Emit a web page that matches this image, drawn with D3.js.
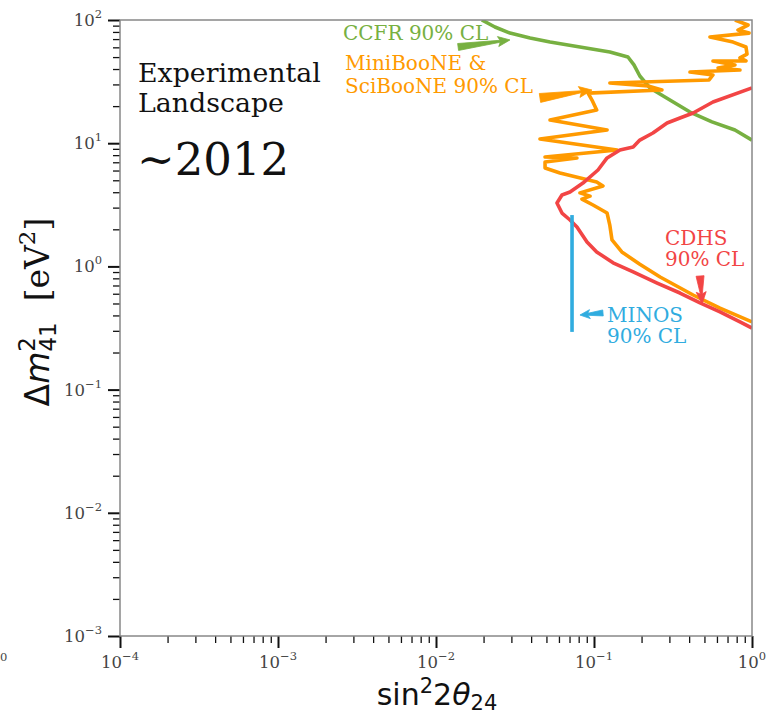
<!DOCTYPE html>
<html>
<head>
<meta charset="utf-8">
<script src="https://cdn.jsdelivr.net/npm/d3@7"></script>
<style>
body { margin: 0; background: #fff }
svg { display: block }
</style>
</head>
<body>
<script>
// CCFR 90% CL limit (sin^2 2theta_24, dm^2_41 in eV^2)
var ccfrSin = [0.0195, 0.0236, 0.0294, 0.0394, 0.0527, 0.0815, 0.126, 0.164, 0.179, 0.195, 0.226, 0.281, 0.405, 0.558, 0.780, 1.0]
var ccfrDm = [100, 87.7, 78.3, 71.5, 66.2, 60.4, 55.0, 50.1, 43.2, 35.1, 28.1, 23.7, 17.9, 14.9, 12.8, 10.6]

// CDHS 90% CL limit
var cdhsSin = [1.0, 0.566, 0.424, 0.350, 0.290, 0.236, 0.195, 0.177, 0.146, 0.121, 0.106, 0.0851, 0.0705, 0.0627, 0.0583, 0.0627, 0.0705, 0.0780, 0.0903, 0.104, 0.132, 0.177, 0.251, 0.350, 0.469, 0.627, 0.839, 1.0]
var cdhsDm = [28.1, 21.6, 17.6, 16.0, 14.6, 12.1, 10.6, 9.31, 8.81, 7.59, 6.06, 4.75, 4.02, 3.80, 3.27, 2.71, 2.38, 2.09, 1.58, 1.31, 1.07, 0.902, 0.733, 0.608, 0.505, 0.427, 0.354, 0.316]

// MiniBooNE & SciBooNE 90% CL limit
var mbSin = [0.780, 0.944, 0.815, 0.958, 0.542, 0.759, 0.916, 0.930, 0.839, 0.916, 0.566, 0.780, 0.610, 0.839, 0.405, 0.566, 0.535, 0.126, 0.220, 0.269, 0.0917, 0.0971, 0.104, 0.0527, 0.121, 0.0455, 0.140, 0.0490, 0.0780, 0.0490, 0.0490, 0.0609, 0.104, 0.114, 0.0815, 0.0944, 0.0839, 0.0986, 0.121, 0.126, 0.130, 0.150, 0.195, 0.262, 0.424, 0.627, 1.0]
var mbDm = [100, 91.0, 82.9, 78.3, 72.8, 66.2, 60.4, 52.9, 49.2, 46.5, 46.5, 43.2, 40.8, 39.3, 37.8, 35.8, 32.6, 30.8, 29.1, 27.0, 25.5, 22.4, 18.6, 15.4, 12.8, 10.8, 8.81, 7.73, 7.59, 7.03, 6.29, 5.73, 4.84, 4.50, 3.95, 3.72, 3.52, 3.15, 2.71, 2.15, 1.64, 1.31, 1.04, 0.820, 0.586, 0.459, 0.354]

// MINOS 90% CL limit
var minosSin = [0.0726, 0.0726]
var minosDm = [0.294, 2.61]

// axis decades
var xDecades = [-4, -3, -2, -1, 0]
var yDecades = [-3, -2, -1, 0, 1, 2]

// arrows: [tailSin, tailDm, tipSin, tipDm]
var ccfrArrow = [0.0138, 60.4, 0.0294, 68.9]
var mbArrow = [0.0455, 23.3, 0.0971, 27.0]
var cdhsArrow = [0.469, 0.836, 0.483, 0.496]
var minosArrow = [0.114, 0.419, 0.0815, 0.403]

var GREEN = '#77b041'
var ORANGE = '#ff9a00'
var RED = '#f24545'
var BLUE = '#30acdf'

var width = 768
var height = 714
var margin = {left: 120, right: 16, top: 20, bottom: 78}

var svg = d3.select('body').append('svg')
  .attr('width', width)
  .attr('height', height)

svg.append('rect')
  .attr('width', width)
  .attr('height', height)
  .attr('fill', '#fff')

var x = d3.scaleLog().domain([1e-4, 1]).range([margin.left, width - margin.right])
var y = d3.scaleLog().domain([1e-3, 1e2]).range([height - margin.bottom, margin.top])

function zip(xs, ys) {
  return xs.map(function(v, i) { return [v, ys[i]] })
}

function minors(decades) {
  var out = []
  decades.slice(0, -1).forEach(function(d) {
    for (var k = 2; k < 10; k++) out.push(k * Math.pow(10, d))
  })
  return out
}

function majors(decades) {
  return decades.map(function(d) { return Math.pow(10, d) })
}

// ticks
var xMinorAxis = d3.axisBottom(x).tickValues(minors(xDecades)).tickSize(7).tickFormat('')
var xMajorAxis = d3.axisBottom(x).tickValues(majors(xDecades)).tickSize(12).tickFormat('')
var yMinorAxis = d3.axisLeft(y).tickValues(minors(yDecades)).tickSize(7).tickFormat('')
var yMajorAxis = d3.axisLeft(y).tickValues(majors(yDecades)).tickSize(12).tickFormat('')

function drawAxis(axis, transform, w) {
  var g = svg.append('g').attr('transform', transform).call(axis)
  g.select('.domain').remove()
  g.selectAll('line').attr('stroke', '#111').attr('stroke-width', w)
  return g
}

drawAxis(xMinorAxis, 'translate(0,' + y.range()[0] + ')', 1.3)
drawAxis(xMajorAxis, 'translate(0,' + y.range()[0] + ')', 2)
drawAxis(yMinorAxis, 'translate(' + x.range()[0] + ',0)', 1.3)
drawAxis(yMajorAxis, 'translate(' + x.range()[0] + ',0)', 2)

function expLabel(sel, d) {
  sel.append('tspan').text('10')
  sel.append('tspan')
    .attr('dy', -8)
    .attr('font-size', 11.5)
    .text(d < 0 ? '\u2212' + (-d) : d)
}

svg.append('g').selectAll('text')
  .data(xDecades)
  .enter()
  .append('text')
  .attr('x', function(d) { return x(Math.pow(10, d)) })
  .attr('y', 668)
  .attr('text-anchor', 'middle')
  .attr('font-family', 'DejaVu Serif')
  .attr('font-size', 16.5)
  .attr('fill', '#444')
  .each(function(d) { expLabel(d3.select(this), d) })

svg.append('g').selectAll('text')
  .data(yDecades)
  .enter()
  .append('text')
  .attr('x', 102)
  .attr('y', function(d) { return y(Math.pow(10, d)) + 6 })
  .attr('text-anchor', 'end')
  .attr('font-family', 'DejaVu Serif')
  .attr('font-size', 16.5)
  .attr('fill', '#444')
  .each(function(d) { expLabel(d3.select(this), d) })

// stray clipped label at the far left
svg.append('text')
  .attr('x', 0)
  .attr('y', 661)
  .attr('font-family', 'DejaVu Serif')
  .attr('font-size', 11.5)
  .attr('fill', '#444')
  .text('0')

// curves
svg.append('clipPath').attr('id', 'plot')
  .append('rect')
  .attr('x', x.range()[0])
  .attr('y', y.range()[1])
  .attr('width', x.range()[1] - x.range()[0])
  .attr('height', y.range()[0] - y.range()[1])

var line = d3.line()
  .x(function(d) { return x(d[0]) })
  .y(function(d) { return y(d[1]) })

var curves = [
  {pts: zip(ccfrSin, ccfrDm), color: GREEN},
  {pts: zip(mbSin, mbDm), color: ORANGE},
  {pts: zip(cdhsSin, cdhsDm), color: RED},
  {pts: zip(minosSin, minosDm), color: BLUE}
]

svg.append('g')
  .attr('clip-path', 'url(#plot)')
  .selectAll('path')
  .data(curves)
  .enter()
  .append('path')
  .attr('d', function(d) { return line(d.pts) })
  .attr('fill', 'none')
  .attr('stroke', function(d) { return d.color })
  .attr('stroke-width', 3.6)
  .attr('stroke-linejoin', 'round')
  .attr('stroke-linecap', 'butt')

// frame
svg.append('rect')
  .attr('x', x.range()[0])
  .attr('y', y.range()[1])
  .attr('width', x.range()[1] - x.range()[0])
  .attr('height', y.range()[0] - y.range()[1])
  .attr('fill', 'none')
  .attr('stroke', '#888')
  .attr('stroke-width', 1.5)

// fancy arrows: wedge tail narrowing to a head
function arrow(a, color, tailW, headL, headW) {
  var x0 = x(a[0]), y0 = y(a[1]), x1 = x(a[2]), y1 = y(a[3])
  var len = Math.hypot(x1 - x0, y1 - y0)
  var ux = (x1 - x0) / len, uy = (y1 - y0) / len
  var nx = -uy, ny = ux
  var bx = x1 - ux * headL, by = y1 - uy * headL
  var pts = [
    [x0 + nx * tailW, y0 + ny * tailW],
    [bx + nx * 1, by + ny * 1],
    [bx - ux * 2 + nx * headW, by - uy * 2 + ny * headW],
    [x1, y1],
    [bx - ux * 2 - nx * headW, by - uy * 2 - ny * headW],
    [bx - nx * 1, by - ny * 1],
    [x0 - nx * tailW, y0 - ny * tailW]
  ]
  svg.append('path')
    .attr('d', 'M' + pts.join('L') + 'Z')
    .attr('fill', color)
    .attr('stroke', color)
    .attr('stroke-width', 0.8)
    .attr('stroke-linejoin', 'round')
}

arrow(ccfrArrow, GREEN, 3.5, 10, 5)
arrow(mbArrow, ORANGE, 4.5, 11, 5.5)
arrow(cdhsArrow, RED, 4, 10, 5)
arrow(minosArrow, BLUE, 3, 8, 4.5)

// annotations
function note(lines, px, py, lh, color, size) {
  var t = svg.append('text')
    .attr('font-family', 'DejaVu Serif')
    .attr('font-size', size)
    .attr('fill', color)
  lines.forEach(function(s, i) {
    t.append('tspan').attr('x', px).attr('y', py + i * lh).text(s)
  })
}

note(['Experimental', 'Landscape'], 138, 82, 30, '#111', 26.8)
note(['~2012'], 137, 175, 0, '#111', 45)
note(['CCFR 90% CL'], 343, 40, 0, GREEN, 20)
note(['MiniBooNE &', 'SciBooNE 90% CL'], 345, 70, 23, ORANGE, 20)
note(['CDHS', '90% CL'], 665, 245, 21, RED, 20)
note(['MINOS', '90% CL'], 607, 322, 21, BLUE, 20)

// axis titles
var xt = svg.append('text')
  .attr('x', 437)
  .attr('y', 705)
  .attr('text-anchor', 'middle')
  .attr('font-family', 'DejaVu Sans')
  .attr('font-size', 30)
  .attr('fill', '#111')
xt.append('tspan').text('sin')
xt.append('tspan').attr('dy', -12).attr('font-size', 21).text('2')
xt.append('tspan').attr('dy', 12).text('2')
xt.append('tspan').attr('font-style', 'italic').text('\u03b8')
xt.append('tspan').attr('dy', 5).attr('font-size', 21).text('24')

var yt = svg.append('text')
  .attr('transform', 'translate(49,' + 312 + ') rotate(-90)')
  .attr('text-anchor', 'middle')
  .attr('font-family', 'DejaVu Sans')
  .attr('font-size', 33)
  .attr('fill', '#111')
yt.append('tspan').text('\u0394')
yt.append('tspan').attr('font-style', 'italic').text('m')
yt.append('tspan').attr('dy', -14).attr('font-size', 23).text('2')
yt.append('tspan').attr('dx', -14.6).attr('dy', 21).attr('font-size', 23).text('41')
yt.append('tspan').attr('dy', -7).attr('font-family', 'DejaVu Serif').text('\u00a0\u00a0[eV')
yt.append('tspan').attr('dy', -14).attr('font-family', 'DejaVu Serif').attr('font-size', 23).text('2')
yt.append('tspan').attr('dy', 14).attr('font-family', 'DejaVu Serif').text(']')
</script>
</body>
</html>
